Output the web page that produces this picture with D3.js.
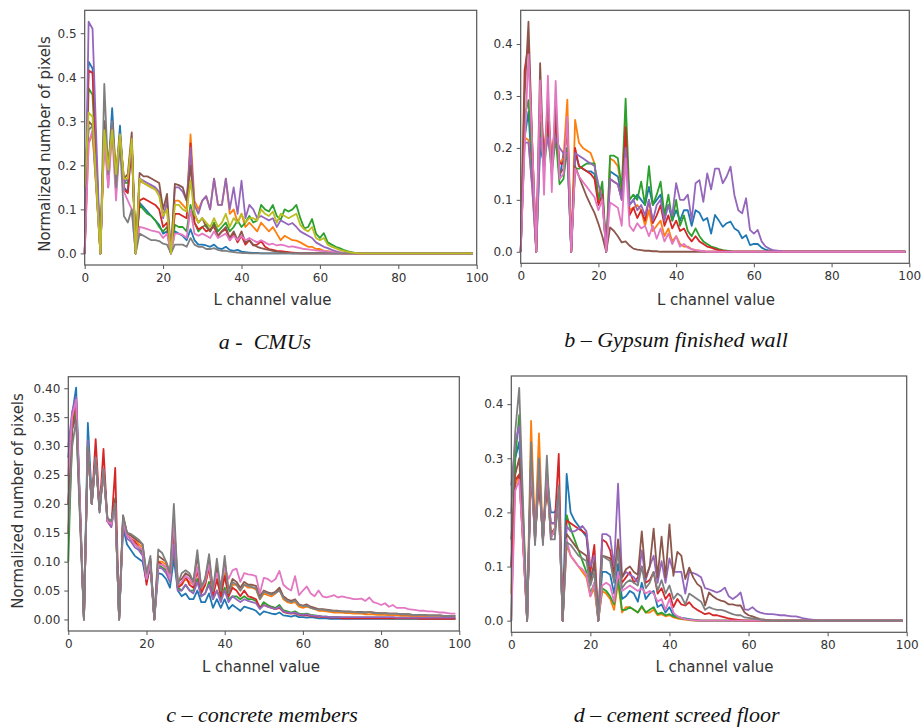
<!DOCTYPE html>
<html><head><meta charset="utf-8">
<script src="https://cdn.jsdelivr.net/npm/d3@7"></script>
<style>body{margin:0;background:#fff}svg{display:block}</style>
</head><body>
<svg id="chart" width="923" height="728"></svg>
<script>
// ---------- data ----------
const L_VALUES = d3.range(0, 100);            // L channel bins 0..99
const X_TICKS = [0, 20, 40, 60, 80, 100];
const Y_TICKS_A = [0, 0.1, 0.2, 0.3, 0.4, 0.5];
const Y_TICKS_B = [0, 0.1, 0.2, 0.3, 0.4];
const Y_TICKS_C = [0, 0.05, 0.10, 0.15, 0.20, 0.25, 0.30, 0.35, 0.40];
const Y_TICKS_D = [0, 0.1, 0.2, 0.3, 0.4];
const SERIES_COLORS = {blue:"#1f77b4", orange:"#ff7f0e", green:"#2ca02c", red:"#d62728", purple:"#9467bd",
  brown:"#8c564b", pink:"#e377c2", gray:"#7f7f7f", olive:"#bcbd22"};

// ---- a - CMUs ----
const A_BLUE = [0,0.435,0.42,0.21,0,0.30,0.18,0.33,0.17,0.29,
0.15,0.14,0.25,0,0.115,0.105,0.095,0.085,0.075,0.065,
0.045,0.05,0,0.05,0.045,0.04,0.03,0.055,0.03,0.02,
0.02,0.018,0.015,0.02,0.012,0.01,0.015,0.008,0.006,0.008,
0.004,0.003,0.002,0.001,0.001,0,0,0,0,0,
0,0,0,0,0,0,0,0,0,0, 0,0,0,0,0,0,0,0,0,0, 0,0,0,0,0,0,0,0,0,0,
0,0,0,0,0,0,0,0,0,0, 0,0,0,0,0,0,0,0,0,0];
const A_ORANGE = [0,0.25,0.27,0.14,0,0.27,0.2,0.29,0.19,0.27,
0.17,0.17,0.26,0,0.165,0.16,0.155,0.15,0.145,0.14,
0.09,0.1,0,0.12,0.12,0.11,0.1,0.27,0.12,0.1,
0.12,0.13,0.1,0.17,0.11,0.11,0.17,0.09,0.1,0.07,
0.09,0.06,0.07,0.06,0.05,0.07,0.06,0.05,0.06,0.045,
0.03,0.04,0.035,0.03,0.029,0.025,0.02,0.015,0.015,0.01,
0.01,0.006,0.005,0.003,0.002,0.001,0,0,0,0,
0,0,0,0,0,0,0,0,0,0, 0,0,0,0,0,0,0,0,0,0, 0,0,0,0,0,0,0,0,0,0];
const A_GREEN = [0,0.375,0.36,0.18,0,0.29,0.19,0.29,0.17,0.27,
0.16,0.16,0.25,0,0.11,0.1,0.09,0.085,0.075,0.06,
0.05,0.06,0,0.065,0.06,0.06,0.05,0.11,0.07,0.05,
0.06,0.065,0.05,0.07,0.05,0.06,0.07,0.05,0.06,0.075,
0.06,0.07,0.085,0.07,0.075,0.11,0.1,0.095,0.11,0.085,
0.076,0.1,0.095,0.1,0.11,0.08,0.057,0.06,0.078,0.045,
0.035,0.046,0.025,0.02,0.015,0.012,0.008,0.005,0.003,0.001,
0,0,0,0,0,0,0,0,0,0, 0,0,0,0,0,0,0,0,0,0, 0,0,0,0,0,0,0,0,0,0];
const A_RED = [0,0.415,0.41,0.2,0,0.28,0.17,0.3,0.16,0.27,
0.145,0.137,0.25,0,0.12,0.125,0.12,0.115,0.11,0.1,
0.06,0.07,0,0.09,0.09,0.085,0.08,0.25,0.07,0.055,
0.06,0.05,0.055,0.06,0.04,0.05,0.055,0.03,0.045,0.025,
0.04,0.02,0.03,0.018,0.02,0.028,0.015,0.01,0.008,0.006,
0.005,0.004,0.003,0.002,0.001,0,0,0,0,0,
0,0,0,0,0,0,0,0,0,0, 0,0,0,0,0,0,0,0,0,0, 0,0,0,0,0,0,0,0,0,0, 0,0,0,0,0,0,0,0,0,0];
const A_PURPLE = [0,0.526,0.51,0.25,0,0.3,0.15,0.3,0.14,0.27,
0.16,0.17,0.25,0,0.17,0.165,0.16,0.155,0.15,0.14,
0.08,0.12,0,0.15,0.15,0.14,0.12,0.24,0.11,0.09,
0.12,0.13,0.1,0.17,0.11,0.11,0.17,0.1,0.15,0.09,
0.165,0.08,0.11,0.1,0.08,0.085,0.08,0.075,0.08,0.06,
0.075,0.07,0.065,0.069,0.06,0.05,0.045,0.04,0.035,0.025,
0.02,0.015,0.012,0.008,0.005,0.003,0.002,0.001,0,0,
0,0,0,0,0,0,0,0,0,0, 0,0,0,0,0,0,0,0,0,0, 0,0,0,0,0,0,0,0,0,0];
const A_BROWN = [0,0.3,0.29,0.15,0,0.3,0.2,0.28,0.18,0.26,
0.17,0.18,0.275,0,0.183,0.175,0.175,0.17,0.165,0.16,
0.1,0.135,0,0.158,0.155,0.15,0.12,0.2,0.09,0.07,
0.08,0.06,0.05,0.065,0.04,0.05,0.06,0.035,0.05,0.03,
0.05,0.025,0.03,0.02,0.015,0.012,0.01,0.008,0.006,0.004,
0.003,0.002,0.001,0,0,0,0,0,0,0,
0,0,0,0,0,0,0,0,0,0, 0,0,0,0,0,0,0,0,0,0, 0,0,0,0,0,0,0,0,0,0, 0,0,0,0,0,0,0,0,0,0];
const A_PINK = [0,0.25,0.28,0.14,0,0.26,0.15,0.27,0.12,0.26,
0.14,0.12,0.1,0,0.06,0.058,0.055,0.052,0.05,0.048,
0.035,0.045,0,0.045,0.045,0.042,0.035,0.1,0.045,0.04,
0.045,0.04,0.035,0.05,0.035,0.04,0.045,0.03,0.04,0.03,
0.04,0.03,0.035,0.03,0.025,0.03,0.025,0.02,0.022,0.018,
0.02,0.018,0.015,0.016,0.014,0.012,0.01,0.009,0.008,0.007,
0.006,0.005,0.004,0.003,0.002,0.002,0.001,0,0,0,
0,0,0,0,0,0,0,0,0,0, 0,0,0,0,0,0,0,0,0,0, 0,0,0,0,0,0,0,0,0,0];
const A_GRAY = [0.2,0.28,0.29,0.15,0,0.385,0.18,0.3,0.15,0.25,
0.085,0.07,0.1,0,0.045,0.04,0.035,0.03,0.03,0.028,
0.022,0.02,0,0.02,0.02,0.02,0.015,0.035,0.02,0.015,
0.015,0.01,0.01,0.012,0.008,0.006,0.006,0.004,0.003,0.002,
0.001,0.001,0,0,0,0,0,0,0,0,
0,0,0,0,0,0,0,0,0,0, 0,0,0,0,0,0,0,0,0,0, 0,0,0,0,0,0,0,0,0,0,
0,0,0,0,0,0,0,0,0,0, 0,0,0,0,0,0,0,0,0,0];
const A_OLIVE = [0.15,0.32,0.31,0.15,0,0.28,0.19,0.28,0.18,0.27,
0.17,0.17,0.26,0,0.17,0.16,0.155,0.15,0.145,0.13,
0.085,0.1,0,0.11,0.11,0.1,0.095,0.165,0.09,0.07,
0.08,0.07,0.06,0.08,0.06,0.07,0.09,0.06,0.08,0.07,
0.09,0.07,0.08,0.08,0.075,0.1,0.09,0.085,0.095,0.07,
0.09,0.085,0.08,0.085,0.09,0.065,0.055,0.05,0.06,0.035,
0.03,0.035,0.02,0.015,0.012,0.008,0.006,0.004,0.002,0.001,
0,0,0,0,0,0,0,0,0,0, 0,0,0,0,0,0,0,0,0,0, 0,0,0,0,0,0,0,0,0,0];

// ---- b - Gypsum finished wall ----
const B_BLUE = [0,0.22,0.27,0.14,0,0.2,0.17,0.27,0.16,0.25,
0.14,0.19,0.2,0,0.19,0.165,0.16,0.155,0.155,0.15,
0.1,0.12,0,0.155,0.15,0.145,0.11,0.22,0.09,0.1,
0.11,0.1,0.09,0.125,0.09,0.1,0.11,0.07,0.09,0.06,
0.08,0.06,0.08,0.08,0.05,0.08,0.075,0.06,0.065,0.035,
0.071,0.06,0.048,0.055,0.058,0.045,0.04,0.026,0.032,0.013,
0.015,0.015,0.008,0.004,0.002,0.001,0,0,0,0,
0,0,0,0,0,0,0,0,0,0, 0,0,0,0,0,0,0,0,0,0, 0,0,0,0,0,0,0,0,0,0];
const B_ORANGE = [0,0.22,0.215,0.12,0,0.25,0.2,0.26,0.19,0.25,
0.17,0.18,0.293,0,0.254,0.21,0.2,0.195,0.19,0.17,
0.1,0.12,0,0.18,0.175,0.165,0.12,0.25,0.08,0.085,
0.09,0.08,0.05,0.08,0.04,0.05,0.06,0.03,0.045,0.02,
0.03,0.015,0.01,0.01,0.005,0.003,0.002,0.001,0,0,
0,0,0,0,0,0,0,0,0,0, 0,0,0,0,0,0,0,0,0,0, 0,0,0,0,0,0,0,0,0,0,
0,0,0,0,0,0,0,0,0,0, 0,0,0,0,0,0,0,0,0,0];
const B_GREEN = [0,0.26,0.292,0.17,0,0.25,0.16,0.23,0.15,0.22,
0.13,0.14,0.2,0,0.16,0.16,0.165,0.17,0.17,0.17,
0.1,0.135,0,0.185,0.185,0.18,0.12,0.295,0.1,0.11,
0.1,0.135,0.09,0.165,0.09,0.11,0.135,0.07,0.11,0.06,
0.1,0.05,0.07,0.04,0.03,0.045,0.03,0.02,0.015,0.01,
0.008,0.005,0.003,0.002,0.001,0,0,0,0,0,
0,0,0,0,0,0,0,0,0,0, 0,0,0,0,0,0,0,0,0,0, 0,0,0,0,0,0,0,0,0,0, 0,0,0,0,0,0,0,0,0,0];
const B_RED = [0,0.35,0.4,0.2,0,0.3,0.18,0.25,0.17,0.25,
0.17,0.17,0.24,0,0.2,0.165,0.16,0.155,0.15,0.14,
0.09,0.11,0,0.14,0.135,0.13,0.1,0.24,0.07,0.085,
0.065,0.08,0.06,0.1,0.055,0.07,0.09,0.05,0.07,0.045,
0.06,0.04,0.045,0.03,0.02,0.03,0.02,0.015,0.01,0.008,
0.005,0.003,0.002,0.001,0,0,0,0,0,0,
0,0,0,0,0,0,0,0,0,0, 0,0,0,0,0,0,0,0,0,0, 0,0,0,0,0,0,0,0,0,0, 0,0,0,0,0,0,0,0,0,0];
const B_PURPLE = [0,0.21,0.21,0.12,0,0.22,0.18,0.22,0.17,0.22,
0.2,0.19,0.19,0,0.19,0.185,0.18,0.175,0.17,0.165,
0.13,0.1,0,0.14,0.135,0.13,0.1,0.2,0.09,0.1,
0.08,0.09,0.07,0.1,0.06,0.09,0.1,0.06,0.09,0.07,
0.132,0.1,0.1,0.11,0.061,0.132,0.138,0.096,0.151,0.12,
0.16,0.16,0.132,0.145,0.164,0.109,0.08,0.074,0.103,0.042,
0.035,0.042,0.02,0.01,0.006,0.003,0.002,0.001,0,0,
0,0,0,0,0,0,0,0,0,0, 0,0,0,0,0,0,0,0,0,0, 0,0,0,0,0,0,0,0,0,0];
const B_BROWN = [0,0.3,0.443,0.2,0,0.363,0.15,0.3,0.15,0.28,
0.15,0.16,0.25,0,0.165,0.145,0.125,0.106,0.09,0.075,
0.054,0.03,0,0.047,0.04,0.03,0.018,0.02,0.012,0.006,
0.004,0.003,0.002,0.002,0.001,0.001,0,0,0,0,
0,0,0,0,0,0,0,0,0,0, 0,0,0,0,0,0,0,0,0,0, 0,0,0,0,0,0,0,0,0,0,
0,0,0,0,0,0,0,0,0,0, 0,0,0,0,0,0,0,0,0,0, 0,0,0,0,0,0,0,0,0,0];
const B_PINK = [0,0.2,0.38,0.2,0,0.33,0.11,0.339,0.115,0.329,
0.14,0.15,0.26,0,0.16,0.145,0.135,0.125,0.115,0.105,
0.08,0.1,0,0.095,0.09,0.085,0.05,0.18,0.05,0.04,
0.055,0.045,0.05,0.03,0.05,0.025,0.045,0.02,0.035,0.015,
0.03,0.01,0.015,0.008,0.005,0.003,0.002,0.001,0,0,
0,0,0,0,0,0,0,0,0,0, 0,0,0,0,0,0,0,0,0,0, 0,0,0,0,0,0,0,0,0,0,
0,0,0,0,0,0,0,0,0,0, 0,0,0,0,0,0,0,0,0,0];

// ---- c - concrete members ----
const C_BLUE = [0.28,0.355,0.401,0.2,0,0.34,0.21,0.28,0.19,0.26,
0.175,0.165,0.2,0,0.16,0.13,0.12,0.11,0.105,0.1,
0.065,0.09,0,0.08,0.078,0.07,0.055,0.105,0.05,0.04,
0.045,0.035,0.035,0.05,0.03,0.03,0.045,0.02,0.035,0.02,
0.035,0.018,0.025,0.02,0.015,0.022,0.02,0.018,0.015,0.008,
0.014,0.012,0.01,0.009,0.012,0.007,0.006,0.005,0.007,0.004,
0.004,0.003,0.004,0.003,0.002,0.002,0.002,0.001,0.001,0.001,
0.001,0.001,0.001,0.001,0.001,0.001,0.001,0.001,0.001,0.001,
0.001,0.001,0.001,0.001,0.001,0.001,0.001,0.001,0.001,0.001,
0.001,0.001,0.001,0.001,0.001,0.001,0.001,0.001,0.001,0.001];
const C_ORANGE = [0.15,0.33,0.37,0.19,0,0.3,0.2,0.28,0.19,0.26,
0.17,0.165,0.2,0,0.175,0.15,0.145,0.14,0.13,0.125,
0.07,0.1,0,0.1,0.1,0.095,0.075,0.14,0.06,0.06,
0.07,0.065,0.06,0.09,0.05,0.06,0.09,0.045,0.07,0.045,
0.08,0.045,0.06,0.06,0.05,0.06,0.055,0.055,0.052,0.035,
0.045,0.042,0.04,0.045,0.052,0.035,0.03,0.028,0.03,0.022,
0.02,0.022,0.02,0.018,0.015,0.015,0.014,0.013,0.012,0.012,
0.012,0.011,0.011,0.01,0.01,0.01,0.009,0.009,0.009,0.008,
0.008,0.008,0.007,0.007,0.007,0.006,0.006,0.006,0.005,0.005,
0.005,0.005,0.004,0.004,0.004,0.004,0.004,0.003,0.003,0.003];
const C_GREEN = [0.1,0.33,0.36,0.18,0,0.31,0.2,0.28,0.19,0.26,
0.17,0.165,0.2,0,0.17,0.145,0.14,0.13,0.125,0.115,
0.07,0.1,0,0.095,0.09,0.085,0.065,0.12,0.055,0.05,
0.06,0.05,0.05,0.07,0.04,0.045,0.065,0.035,0.05,0.035,
0.055,0.035,0.04,0.04,0.035,0.04,0.035,0.035,0.032,0.02,
0.03,0.025,0.022,0.02,0.025,0.016,0.014,0.012,0.014,0.01,
0.009,0.01,0.008,0.007,0.006,0.005,0.005,0.004,0.004,0.004,
0.003,0.003,0.003,0.003,0.003,0.003,0.003,0.003,0.003,0.003,
0.003,0.003,0.002,0.002,0.002,0.002,0.002,0.002,0.002,0.002,
0.002,0.002,0.002,0.002,0.002,0.002,0.002,0.002,0.002,0.002];
const C_RED = [0.2,0.34,0.38,0.19,0,0.3,0.2,0.312,0.19,0.295,
0.17,0.16,0.262,0,0.175,0.145,0.14,0.135,0.125,0.12,
0.06,0.1,0,0.1,0.095,0.09,0.07,0.15,0.055,0.06,
0.075,0.06,0.055,0.085,0.045,0.06,0.09,0.04,0.07,0.04,
0.075,0.04,0.055,0.05,0.04,0.05,0.04,0.038,0.035,0.02,
0.025,0.022,0.02,0.018,0.02,0.013,0.011,0.01,0.011,0.008,
0.007,0.007,0.006,0.005,0.005,0.004,0.004,0.003,0.003,0.003,
0.002,0.002,0.002,0.002,0.002,0.002,0.002,0.002,0.002,0.002,
0.002,0.002,0.002,0.002,0.002,0.002,0.002,0.002,0.002,0.002,
0.001,0.001,0.001,0.001,0.001,0.001,0.001,0.001,0.001,0.001];
const C_PURPLE = [0.3,0.36,0.385,0.19,0,0.31,0.2,0.28,0.185,0.26,
0.17,0.16,0.2,0,0.165,0.14,0.135,0.125,0.12,0.11,
0.07,0.095,0,0.09,0.088,0.08,0.065,0.13,0.05,0.05,
0.06,0.05,0.045,0.065,0.04,0.045,0.06,0.035,0.05,0.03,
0.05,0.03,0.04,0.035,0.03,0.035,0.032,0.03,0.028,0.018,
0.025,0.022,0.02,0.018,0.022,0.014,0.012,0.011,0.012,0.009,
0.008,0.009,0.007,0.006,0.006,0.005,0.005,0.004,0.004,0.004,
0.004,0.004,0.004,0.004,0.004,0.004,0.004,0.004,0.004,0.004,
0.004,0.004,0.004,0.004,0.003,0.003,0.003,0.003,0.003,0.003,
0.003,0.003,0.003,0.003,0.003,0.003,0.003,0.003,0.003,0.003];
const C_BROWN = [0.2,0.33,0.35,0.18,0,0.3,0.2,0.28,0.19,0.26,
0.175,0.17,0.21,0,0.18,0.15,0.145,0.14,0.135,0.13,
0.075,0.105,0,0.11,0.105,0.1,0.08,0.17,0.065,0.07,
0.08,0.075,0.065,0.11,0.055,0.07,0.105,0.05,0.09,0.05,
0.1,0.05,0.07,0.065,0.055,0.065,0.06,0.06,0.058,0.04,
0.05,0.047,0.045,0.048,0.055,0.04,0.035,0.032,0.035,0.026,
0.024,0.026,0.022,0.02,0.018,0.018,0.017,0.016,0.015,0.015,
0.014,0.014,0.014,0.013,0.013,0.013,0.012,0.013,0.012,0.011,
0.011,0.011,0.01,0.01,0.01,0.009,0.009,0.009,0.008,0.008,
0.008,0.008,0.007,0.007,0.007,0.007,0.006,0.006,0.006,0.006];
const C_PINK = [0.25,0.35,0.38,0.19,0,0.3,0.2,0.28,0.19,0.26,
0.17,0.165,0.2,0,0.17,0.145,0.14,0.13,0.125,0.12,
0.07,0.1,0,0.095,0.095,0.09,0.07,0.17,0.06,0.065,
0.075,0.07,0.06,0.09,0.055,0.065,0.095,0.05,0.08,0.06,
0.09,0.07,0.085,0.088,0.065,0.08,0.078,0.077,0.075,0.045,
0.072,0.07,0.065,0.07,0.084,0.06,0.054,0.05,0.075,0.042,
0.05,0.057,0.045,0.04,0.05,0.04,0.038,0.04,0.042,0.038,
0.04,0.038,0.037,0.035,0.035,0.036,0.032,0.038,0.03,0.028,
0.025,0.028,0.022,0.025,0.02,0.02,0.02,0.018,0.017,0.016,
0.015,0.015,0.014,0.014,0.013,0.012,0.012,0.011,0.01,0.01];
const C_GRAY = [0.15,0.3,0.345,0.17,0,0.3,0.2,0.28,0.185,0.26,
0.175,0.17,0.2,0,0.18,0.15,0.148,0.143,0.138,0.13,
0.08,0.11,0,0.121,0.115,0.1,0.08,0.2,0.06,0.08,
0.085,0.08,0.065,0.12,0.055,0.07,0.113,0.05,0.105,0.05,
0.11,0.045,0.065,0.06,0.05,0.06,0.058,0.056,0.054,0.035,
0.048,0.045,0.043,0.046,0.05,0.038,0.032,0.03,0.033,0.025,
0.023,0.024,0.02,0.018,0.017,0.017,0.016,0.015,0.015,0.014,
0.014,0.013,0.013,0.013,0.012,0.012,0.012,0.013,0.011,0.011,
0.01,0.011,0.01,0.01,0.01,0.009,0.009,0.009,0.008,0.008,
0.008,0.008,0.007,0.007,0.007,0.007,0.006,0.006,0.006,0.006];

// ---- d - cement screed floor ----
const D_BLUE = [0.1,0.3,0.33,0.17,0,0.3,0.16,0.28,0.15,0.27,
0.2,0.2,0.22,0,0.271,0.2,0.185,0.175,0.165,0.155,
0.08,0.1,0,0.09,0.09,0.085,0.05,0.105,0.04,0.045,
0.055,0.05,0.035,0.07,0.04,0.05,0.055,0.025,0.03,0.015,
0.025,0.01,0.008,0.005,0.004,0.003,0.002,0.001,0,0,
0,0,0,0,0,0,0,0,0,0, 0,0,0,0,0,0,0,0,0,0, 0,0,0,0,0,0,0,0,0,0,
0,0,0,0,0,0,0,0,0,0, 0,0,0,0,0,0,0,0,0,0];
const D_ORANGE = [0.05,0.25,0.27,0.14,0,0.369,0.16,0.346,0.15,0.28,
0.16,0.17,0.23,0,0.14,0.12,0.11,0.1,0.09,0.08,
0.045,0.06,0,0.055,0.05,0.04,0.02,0.07,0.015,0.025,
0.025,0.02,0.015,0.025,0.015,0.015,0.02,0.01,0.012,0.008,
0.01,0.006,0.004,0.003,0.002,0.001,0,0,0,0,
0,0,0,0,0,0,0,0,0,0, 0,0,0,0,0,0,0,0,0,0, 0,0,0,0,0,0,0,0,0,0,
0,0,0,0,0,0,0,0,0,0, 0,0,0,0,0,0,0,0,0,0];
const D_GREEN = [0,0.3,0.38,0.19,0,0.3,0.15,0.27,0.15,0.26,
0.16,0.16,0.22,0,0.195,0.17,0.15,0.13,0.11,0.09,
0.05,0.07,0,0.06,0.055,0.045,0.03,0.078,0.02,0.02,
0.025,0.02,0.015,0.027,0.015,0.02,0.025,0.012,0.015,0.01,
0.012,0.008,0.006,0.004,0.003,0.002,0.001,0,0,0,
0,0,0,0,0,0,0,0,0,0, 0,0,0,0,0,0,0,0,0,0, 0,0,0,0,0,0,0,0,0,0,
0,0,0,0,0,0,0,0,0,0, 0,0,0,0,0,0,0,0,0,0];
const D_RED = [0.1,0.26,0.27,0.14,0,0.28,0.15,0.26,0.15,0.25,
0.18,0.18,0.308,0,0.185,0.18,0.175,0.17,0.165,0.16,
0.09,0.14,0,0.15,0.145,0.13,0.09,0.13,0.07,0.08,
0.09,0.07,0.08,0.1,0.07,0.075,0.09,0.05,0.06,0.04,
0.05,0.025,0.04,0.03,0.028,0.034,0.025,0.02,0.016,0.012,
0.014,0.01,0.01,0.008,0.006,0.004,0.003,0.002,0.001,0,
0,0,0,0,0,0,0,0,0,0, 0,0,0,0,0,0,0,0,0,0, 0,0,0,0,0,0,0,0,0,0, 0,0,0,0,0,0,0,0,0,0];
const D_PURPLE = [0.25,0.33,0.36,0.18,0,0.3,0.16,0.28,0.15,0.27,
0.18,0.18,0.24,0,0.175,0.165,0.165,0.17,0.175,0.165,
0.1,0.12,0,0.16,0.16,0.155,0.1,0.253,0.08,0.09,
0.085,0.08,0.07,0.13,0.075,0.1,0.12,0.07,0.11,0.07,
0.115,0.09,0.09,0.09,0.05,0.09,0.088,0.085,0.08,0.06,
0.058,0.055,0.052,0.055,0.061,0.045,0.04,0.045,0.052,0.021,
0.02,0.025,0.018,0.015,0.013,0.012,0.012,0.011,0.01,0.01,
0.009,0.008,0.008,0.006,0.004,0.003,0.002,0.001,0,0,
0,0,0,0,0,0,0,0,0,0, 0,0,0,0,0,0,0,0,0,0];
const D_BROWN = [0.15,0.27,0.3,0.15,0,0.29,0.15,0.27,0.15,0.26,
0.16,0.17,0.22,0,0.16,0.15,0.14,0.13,0.125,0.12,
0.07,0.11,0,0.12,0.118,0.115,0.08,0.15,0.08,0.095,
0.1,0.09,0.085,0.165,0.08,0.1,0.17,0.08,0.155,0.08,
0.178,0.083,0.127,0.12,0.077,0.098,0.08,0.068,0.062,0.028,
0.052,0.045,0.04,0.037,0.035,0.03,0.03,0.028,0.028,0.015,
0.01,0.008,0.005,0.003,0.002,0.001,0,0,0,0,
0,0,0,0,0,0,0,0,0,0, 0,0,0,0,0,0,0,0,0,0, 0,0,0,0,0,0,0,0,0,0];
const D_PINK = [0,0.24,0.26,0.14,0,0.3,0.14,0.3,0.14,0.28,
0.15,0.17,0.22,0,0.15,0.12,0.11,0.1,0.095,0.085,
0.045,0.07,0,0.065,0.07,0.065,0.035,0.09,0.055,0.06,
0.065,0.06,0.055,0.06,0.05,0.055,0.05,0.035,0.04,0.02,
0.04,0.015,0.008,0.005,0.003,0.002,0.001,0,0,0,
0,0,0,0,0,0,0,0,0,0, 0,0,0,0,0,0,0,0,0,0, 0,0,0,0,0,0,0,0,0,0,
0,0,0,0,0,0,0,0,0,0, 0,0,0,0,0,0,0,0,0,0];
const D_GRAY = [0.2,0.35,0.43,0.21,0,0.33,0.14,0.3,0.14,0.305,
0.15,0.15,0.25,0,0.145,0.14,0.13,0.12,0.115,0.11,
0.065,0.09,0,0.12,0.115,0.11,0.07,0.13,0.06,0.07,
0.075,0.07,0.065,0.1,0.06,0.07,0.09,0.055,0.075,0.05,
0.065,0.04,0.05,0.045,0.03,0.05,0.045,0.04,0.035,0.02,
0.025,0.022,0.02,0.02,0.018,0.015,0.012,0.01,0.01,0.006,
0.005,0.004,0.003,0.002,0.001,0,0,0,0,0,
0,0,0,0,0,0,0,0,0,0, 0,0,0,0,0,0,0,0,0,0, 0,0,0,0,0,0,0,0,0,0];

// ---------- layout (positions only) ----------
const PANELS = [
  {caption:"a -  CMUs", names:["blue","orange","green","red","purple","brown","pink","gray","olive"],
   series:[A_BLUE,A_ORANGE,A_GREEN,A_RED,A_PURPLE,A_BROWN,A_PINK,A_GRAY,A_OLIVE],
   yTicks:Y_TICKS_A, fmt:".1f", yDomain:[-0.0263,0.552],
   box:{l:84.7,t:10.3,r:476.7,b:265}, yLabel:[50,144], xLabel:[272.5,305], cap:[265,349]},
  {caption:"b \u2013 Gypsum finished wall", names:["blue","orange","green","red","purple","brown","pink"],
   series:[B_BLUE,B_ORANGE,B_GREEN,B_RED,B_PURPLE,B_BROWN,B_PINK],
   yTicks:Y_TICKS_B, fmt:".1f", yDomain:[-0.0222,0.465],
   box:{l:520.7,t:10.3,r:909.3,b:263.3}, yLabel:null, xLabel:[716,305], cap:[676,347]},
  {caption:"c \u2013 concrete members", names:["blue","orange","green","red","purple","brown","pink","gray"],
   series:[C_BLUE,C_ORANGE,C_GREEN,C_RED,C_PURPLE,C_BROWN,C_PINK,C_GRAY],
   yTicks:Y_TICKS_C, fmt:".2f", yDomain:[-0.02,0.42],
   box:{l:68.3,t:376.7,r:459.3,b:631}, yLabel:[22.5,501], xLabel:[261,671.7], cap:[262,721.7]},
  {caption:"d \u2013 cement screed floor", names:["blue","orange","green","red","purple","brown","pink","gray"],
   series:[D_BLUE,D_ORANGE,D_GREEN,D_RED,D_PURPLE,D_BROWN,D_PINK,D_GRAY],
   yTicks:Y_TICKS_D, fmt:".1f", yDomain:[-0.0215,0.452],
   box:{l:511.3,t:376,r:906.7,b:632.3}, yLabel:null, xLabel:[714.5,671.7], cap:[676.7,721.7]}
];

const svg = d3.select("#chart");
const TXT = "#333";
const FONT = "'DejaVu Sans', sans-serif";

PANELS.forEach(p => {
  const x = d3.scaleLinear().domain([0, 100]).range([p.box.l, p.box.r]);
  const y = d3.scaleLinear().domain(p.yDomain).range([p.box.b, p.box.t]);
  const g = svg.append("g");

  const line = d3.line().x((d, i) => x(L_VALUES[i])).y(d => y(d));
  p.series.forEach((s, k) => {
    g.append("path").datum(s).attr("d", line)
      .attr("fill", "none").attr("stroke", SERIES_COLORS[p.names[k]])
      .attr("stroke-width", 1.8).attr("stroke-linejoin", "round").attr("stroke-linecap", "butt");
  });

  // axes
  const xa = g.append("g").attr("transform", `translate(0,${p.box.b})`)
    .call(d3.axisBottom(x).tickValues(X_TICKS).tickSize(4).tickPadding(4.5).tickFormat(d3.format("d")));
  const ya = g.append("g").attr("transform", `translate(${p.box.l},0)`)
    .call(d3.axisLeft(y).tickValues(p.yTicks).tickSize(4).tickPadding(4).tickFormat(d3.format(p.fmt)));
  [xa, ya].forEach(a => {
    a.select(".domain").remove();
    a.selectAll("line").attr("stroke", "#555").attr("stroke-width", 1);
    a.selectAll("text").attr("fill", TXT).style("font-family", FONT).style("font-size", "12px");
  });

  // frame
  g.append("rect").attr("x", p.box.l).attr("y", p.box.t)
    .attr("width", p.box.r - p.box.l).attr("height", p.box.b - p.box.t)
    .attr("fill", "none").attr("stroke", "#555").attr("stroke-width", 1.2);

  g.append("text").attr("x", p.xLabel[0]).attr("y", p.xLabel[1])
    .attr("text-anchor", "middle").attr("fill", TXT)
    .style("font-family", FONT).style("font-size", "15px").text("L channel value");

  if (p.yLabel) {
    g.append("text").attr("transform", `translate(${p.yLabel[0]},${p.yLabel[1]}) rotate(-90)`)
      .attr("text-anchor", "middle").attr("fill", TXT)
      .style("font-family", FONT).style("font-size", "15px").text("Normalized number of pixels");
  }

  g.append("text").attr("x", p.cap[0]).attr("y", p.cap[1])
    .attr("text-anchor", "middle").attr("fill", "#111")
    .style("font-family", "'Liberation Serif', 'Times New Roman', serif")
    .style("font-style", "italic").style("font-size", "22px").style("white-space", "pre")
    .text(p.caption);
});
</script>
</body></html>
